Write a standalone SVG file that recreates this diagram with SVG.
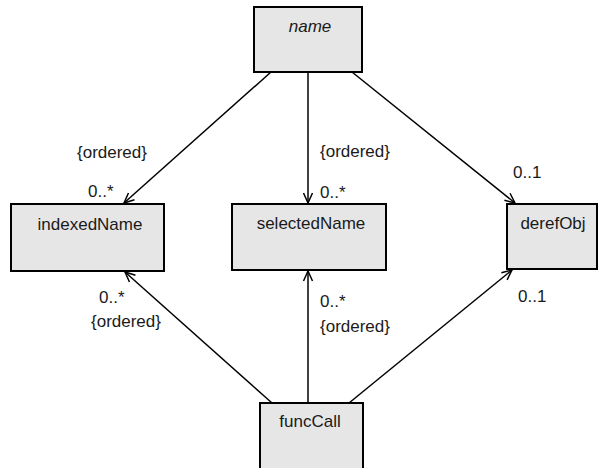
<svg xmlns="http://www.w3.org/2000/svg" width="598" height="468" viewBox="0 0 598 468">
<style>
.box{fill:#e6e6e6;stroke:#000;stroke-width:2}
.t{font-family:"Liberation Sans",Arial,sans-serif;font-size:17px;fill:#1a1a1a}
.c{text-anchor:middle}
.edge{stroke:#000;stroke-width:1.5;fill:none;marker-end:url(#arr)}
</style>
<defs>
<marker id="arr" markerUnits="userSpaceOnUse" viewBox="-12 -6 14 12" refX="0" refY="0" markerWidth="14" markerHeight="12" orient="auto">
<path d="M-10,-4.5 L0,0 L-10,4.5" fill="none" stroke="#000" stroke-width="1.5"/>
</marker>
</defs>
<g id="connectors">
<line class="edge" x1="271" y1="72" x2="124" y2="203"/>
<line class="edge" x1="308" y1="72" x2="308" y2="203"/>
<line class="edge" x1="352" y1="72" x2="515" y2="203"/>
<line class="edge" x1="272" y1="403" x2="125" y2="272"/>
<line class="edge" x1="308" y1="403" x2="308" y2="271"/>
<line class="edge" x1="349" y1="403" x2="512" y2="270"/>
</g>
<g id="labels">
<text class="t" x="77" y="158">{ordered}</text>
<text class="t" x="88" y="197">0..*</text>
<text class="t" x="320" y="157">{ordered}</text>
<text class="t" x="320" y="198">0..*</text>
<text class="t" x="513" y="178">0..1</text>
<text class="t" x="99" y="303">0..*</text>
<text class="t" x="91" y="327">{ordered}</text>
<text class="t" x="320" y="307">0..*</text>
<text class="t" x="320" y="332">{ordered}</text>
<text class="t" x="518" y="302">0..1</text>
</g>
<g id="name">
<rect class="box" x="254" y="7" width="108" height="65"/>
<text class="t c" x="310" y="32" font-style="italic">name</text>
</g>
<g id="indexedName">
<rect class="box" x="11" y="204" width="153" height="67"/>
<text class="t c" x="90" y="230">indexedName</text>
</g>
<g id="selectedName">
<rect class="box" x="232" y="204" width="154" height="66"/>
<text class="t c" x="311" y="229">selectedName</text>
</g>
<g id="derefObj">
<rect class="box" x="507" y="204" width="90" height="65"/>
<text class="t c" x="553" y="229">derefObj</text>
</g>
<g id="funcCall">
<rect class="box" x="260" y="403" width="103" height="75"/>
<text class="t c" x="310" y="427">funcCall</text>
</g>
</svg>
